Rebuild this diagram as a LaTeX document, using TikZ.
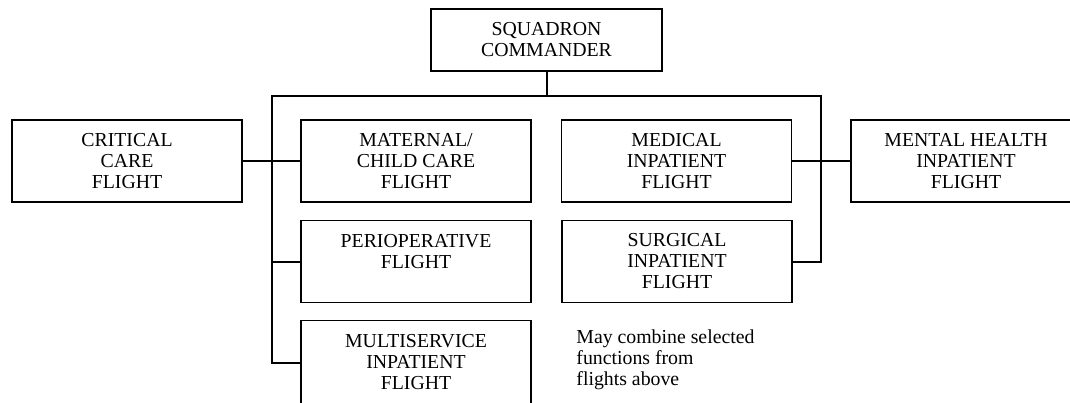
\documentclass[tikz,border=0pt]{standalone}
\usepackage{fontspec}
\setmainfont{Liberation Serif}
\begin{document}
\begin{tikzpicture}[x=0.5pt,y=-0.5pt]
		\tikzset{vertex/.style = {draw, line width=0.9pt, minimum width=115pt, minimum height=41pt, inner sep=0pt, align=center, font=\fontsize{9.9}{10.5}\selectfont}}
		\tikzset{edge/.style = {line width=1pt}}
		
		\useasboundingbox (0,0) rectangle (1070,402);
		
		\node[vertex, minimum width=115.5pt, minimum height=31pt] (1) at (546.5,  40) {SQUADRON\\COMMANDER};
		\node[vertex]  (2) at ( 127,  161) {CRITICAL\\CARE\\FLIGHT};
		\node[vertex]  (3) at ( 416,  161) {MATERNAL/\\CHILD CARE\\FLIGHT};
		\node[vertex]  (4) at ( 676.5, 161) {MEDICAL\\INPATIENT\\FLIGHT};
		\node[vertex]  (5) at ( 966,  161) {MENTAL HEALTH\\INPATIENT\\FLIGHT};
		\node[vertex]  (6) at ( 416,  261.5) {PERIOPERATIVE\\FLIGHT\\~};
		\node[vertex]  (7) at ( 677,  261.5) {SURGICAL\\INPATIENT\\FLIGHT};
		\node[vertex, minimum height=42pt] (8) at ( 416,  362.5) {MULTISERVICE\\INPATIENT\\FLIGHT};
		
		\node[anchor=west, align=left, inner sep=0pt, font=\fontsize{9.9}{10.5}\selectfont] (9) at (576, 359.5) {May combine selected\\functions from\\flights above};
		
		\coordinate (10) at (272, 96);
		\coordinate (11) at (821, 96);
		
		\draw[edge] (1.south) to (1.south |- 10);
		\draw[edge] (8.west) -| (10) -- (11) |- (7.east);
		\draw[edge] (6.west) to (6.west -| 10);
		\draw[edge] (2.east) to (3.west);
		\draw[edge] (4.east) to (5.west);
		\end{tikzpicture}
\end{document}
